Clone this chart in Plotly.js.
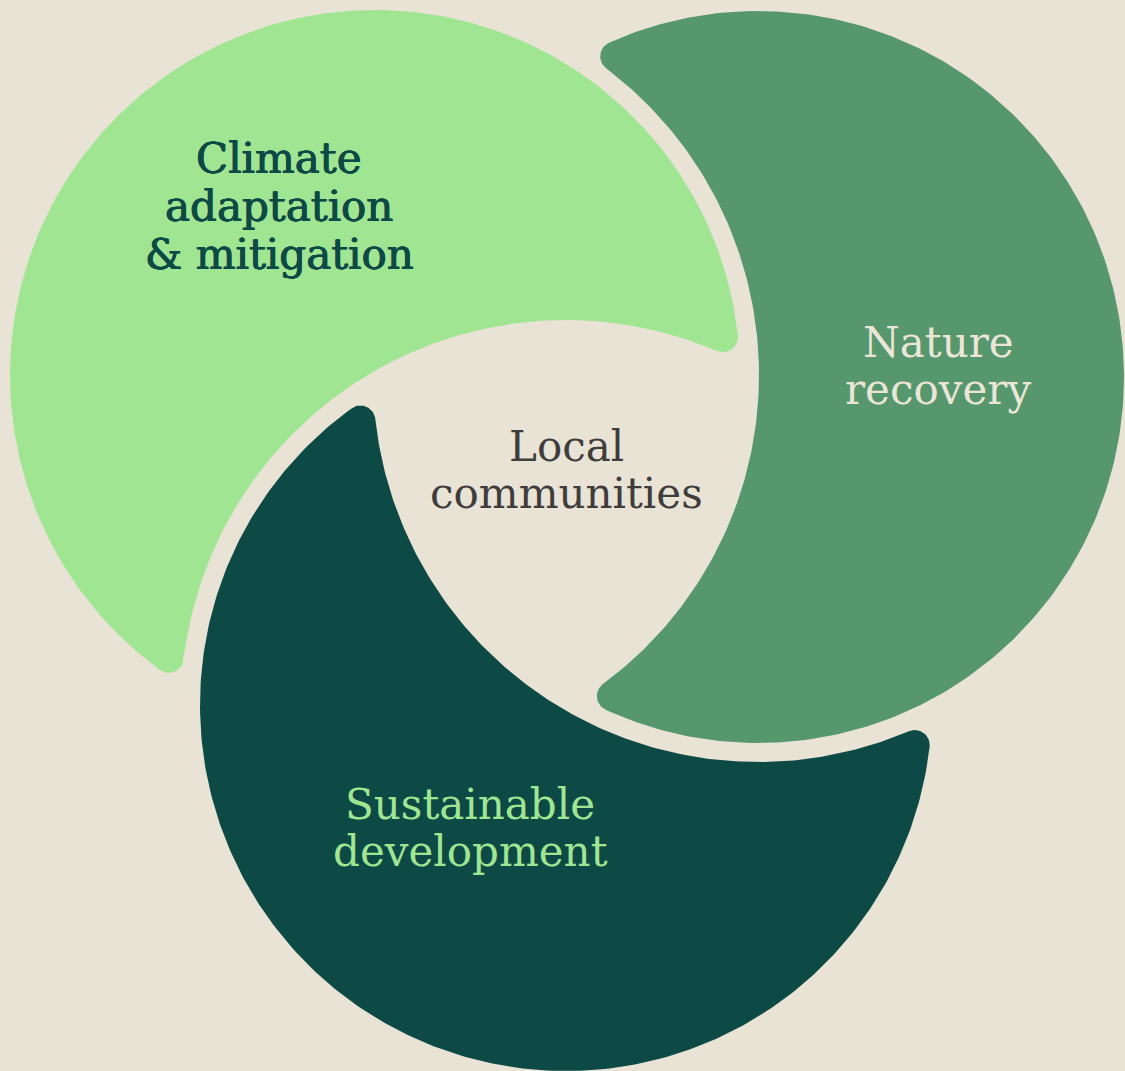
<!DOCTYPE html>
<html>
<head>
<meta charset="utf-8">
<script src="https://cdn.plot.ly/plotly-3.0.1.min.js"></script>
<style>html,body{margin:0;padding:0;background:#e8e3d5;}#chart{width:1125px;height:1071px;}</style>
</head>
<body>
<div id="chart"></div>
<script>
// ---- data ----
const segmentNames = ['Climate adaptation & mitigation', 'Nature recovery', 'Sustainable development'];
const centerX = [375, 758, 566];
const centerY = [375, 377, 705];
const radius = [365, 366, 366];
const cutBy = [2, 0, 1];           // index of the circle that bites into each segment
const segmentColors = ['#a0e592', '#56976e', '#0d4a45'];

const labelLines = [['Climate', 'adaptation', '& mitigation'], ['Nature', 'recovery'], ['Sustainable', 'development'], ['Local', 'communities']];
const labelX = [279, 938, 470, 566];
const labelY = [158, 206, 254, 342, 389, 804, 851, 446, 493];
const labelColors = ['#0d4a45', '#ebe6d8', '#a0e592', '#3f3d3c'];
const labelShadow = ['0.5px 0 0 #0d4a45, -0.5px 0 0 #0d4a45, 0 0.4px 0 #0d4a45', 'none', 'none', 'none'];

// ---- geometry ----
const GAP = 19, FILLET = 15, BG = '#e8e3d5';

function crescent(P, R, Q, Rc, rho) {
  const dx = Q[0] - P[0], dy = Q[1] - P[1];
  const d = Math.hypot(dx, dy), phi = Math.atan2(dy, dx);
  const r1 = R - rho, r2 = Rc + rho;
  const a = (r1 * r1 - r2 * r2 + d * d) / (2 * d);
  const h = Math.sqrt(r1 * r1 - a * a);
  const alpha = Math.atan2(h, a);
  const beta = Math.atan2(h, a - d);
  const xs = [], ys = [];
  const arc = (cx, cy, r, t0, t1, n) => {
    for (let i = 0; i <= n; i++) {
      const t = t0 + (t1 - t0) * i / n;
      xs.push(cx + r * Math.cos(t)); ys.push(cy + r * Math.sin(t));
    }
  };
  const wrap = t => { while (t > Math.PI) t -= 2 * Math.PI; while (t <= -Math.PI) t += 2 * Math.PI; return t; };
  const Fp = [P[0] + r1 * Math.cos(phi + alpha), P[1] + r1 * Math.sin(phi + alpha)];
  const Fm = [P[0] + r1 * Math.cos(phi - alpha), P[1] + r1 * Math.sin(phi - alpha)];
  arc(P[0], P[1], R, phi + alpha, phi + 2 * Math.PI - alpha, 300);
  let t0 = phi - alpha, t1 = Math.atan2(Q[1] - Fm[1], Q[0] - Fm[0]);
  arc(Fm[0], Fm[1], rho, t0, t0 + wrap(t1 - t0), 30);
  arc(Q[0], Q[1], Rc, phi - beta, phi - 2 * Math.PI + beta, 150);
  t0 = Math.atan2(Q[1] - Fp[1], Q[0] - Fp[0]); t1 = phi + alpha;
  arc(Fp[0], Fp[1], rho, t0, t0 + wrap(t1 - t0), 30);
  xs.push(xs[0]); ys.push(ys[0]);
  return {xs, ys};
}

const traces = segmentNames.map((name, i) => {
  const j = cutBy[i];
  const c = crescent([centerX[i], centerY[i]], radius[i], [centerX[j], centerY[j]], radius[j] + GAP, FILLET);
  return {
    type: 'scatter', mode: 'lines', x: c.xs, y: c.ys, fill: 'toself',
    fillcolor: segmentColors[i], line: {width: 0, color: segmentColors[i]},
    hoverinfo: 'skip', name: name, showlegend: false
  };
});

const annotations = [];
let k = 0;
labelLines.forEach((lines, g) => {
  lines.forEach(line => {
    annotations.push({
      x: labelX[g], y: labelY[k++], xref: 'x', yref: 'y', text: line, showarrow: false,
      xanchor: 'center', yanchor: 'middle',
      font: {family: 'DejaVu Serif', size: 42, color: labelColors[g], shadow: labelShadow[g]}
    });
  });
});

const layout = {
  width: 1125, height: 1071,
  margin: {l: 0, r: 0, t: 0, b: 0, pad: 0},
  paper_bgcolor: BG, plot_bgcolor: BG,
  xaxis: {range: [0, 1125], visible: false, fixedrange: true},
  yaxis: {range: [1071, 0], visible: false, fixedrange: true},
  annotations: annotations, showlegend: false
};

Plotly.newPlot('chart', traces, layout, {displayModeBar: false, staticPlot: true});
</script>
</body>
</html>
